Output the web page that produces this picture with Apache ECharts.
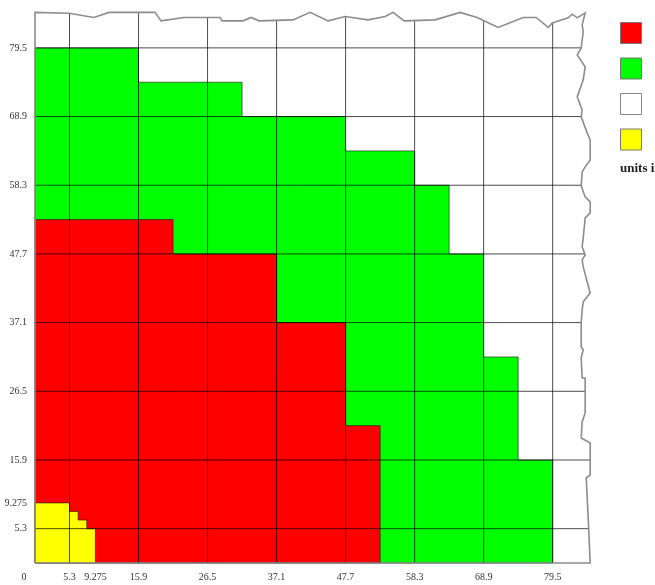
<!DOCTYPE html>
<html><head><meta charset="utf-8">
<script src="https://cdn.jsdelivr.net/npm/echarts@6/dist/echarts.min.js"></script>
<style>html,body{margin:0;padding:0;background:#fff}#c{width:655px;height:585px}</style>
</head><body><div id="c"></div>
<script>
// ---- data ----
const tickLabelsX = [0, 5.3, 9.275, 15.9, 26.5, 37.1, 47.7, 58.3, 68.9, 79.5];
const tickLabelsY = [5.3, 9.275, 15.9, 26.5, 37.1, 47.7, 58.3, 68.9, 79.5];
const gridValues = [5.3, 15.9, 26.5, 37.1, 47.7, 58.3, 68.9, 79.5];

// step regions: column boundaries and the top value of each column
const greenX   = [0, 15.9, 31.8, 47.7, 58.3, 63.6, 68.9, 74.2, 79.5];
const greenTop = [79.5, 74.2, 68.9, 63.6, 58.3, 47.7, 31.8, 15.9];
const redX     = [0, 21.2, 37.1, 47.7, 53.0];
const redTop   = [53.0, 47.7, 37.1, 21.2];
const yellowX   = [0, 5.3, 6.625, 7.95, 9.275];
const yellowTop = [9.275, 7.95, 6.625, 5.3];

// torn-paper outline (top edge left->right, then right edge top->bottom)
const paperEdge = [
  [0,84.98],[5.22,84.84],[9.06,84.19],[11.37,84.98],[18.43,84.98],[19.36,83.67],
  [22.89,84.19],[28.42,84.19],[28.73,83.67],[31.95,83.67],[33.18,84.19],[34.41,83.67],
  [39.63,83.82],[42.25,84.98],[45.01,83.67],[47.63,84.33],[51.16,83.82],[53.77,84.33],
  [55.0,84.98],[56.69,83.67],[61.45,83.82],[65.29,84.98],[67.9,84.19],[71.13,82.65],
  [74.97,84.19],[76.97,84.19],[78.81,82.65],[79.42,83.36],[81.88,84.13],[82.5,84.7],
  [83.27,84.13],[84.49,84.9],[84.03,83.05],[84.19,81.97],[83.88,79.5],[83.27,78.42],
  [84.49,76.57],[84.19,74.56],[83.27,71.94],[84.03,69.93],[83.88,68.85],[84.8,66.38],
  [85.26,65.3],[85.26,62.21],[84.49,61.13],[84.03,60.36],[83.88,58.2],[84.49,56.5],
  [85.26,55.73],[85.26,54.03],[84.49,53.26],[84.19,50.17],[84.03,48.78],[84.49,47.55],
  [84.03,46.77],[84.19,45.69],[85.26,41.68],[84.19,40.29],[84.03,39.06],[83.88,37.05],
  [83.88,33.34],[84.19,32.88],[83.88,31.65],[84.03,28.56],[84.49,28.56],[84.49,23.16],
  [84.03,21.77],[83.88,19.3],[85.26,18.52],[85.26,13.58],[84.65,13.12],[84.95,7.1],
  [85.26,0]
];

const XMAX = 86, YMAX = 85.5;
const FONT = '"Liberation Serif", "DejaVu Serif", serif';

function stepRegion(xs, tops, color) {
  return function (params, api) {
    const pts = [api.coord([xs[0], 0])];
    for (let i = 0; i < tops.length; i++) {
      pts.push(api.coord([xs[i], tops[i]]));
      pts.push(api.coord([xs[i + 1], tops[i]]));
    }
    pts.push(api.coord([xs[xs.length - 1], 0]));
    return { type: 'polygon', shape: { points: pts },
      style: { fill: color, stroke: 'rgba(0,0,0,0.55)', lineWidth: 1 } };
  };
}

const chart = echarts.init(document.getElementById('c'), null, { renderer: 'canvas' });
chart.setOption({
  animation: false,
  backgroundColor: '#fff',
  grid: { left: 35, right: 60, top: 9, bottom: 22, outerBoundsMode: 'none', containLabel: false },
  xAxis: {
    type: 'value', min: 0, max: XMAX,
    axisLine: { show: false }, axisTick: { show: false }, splitLine: { show: false },
    axisLabel: {
      customValues: tickLabelsX, margin: 9, color: '#333', fontFamily: FONT, fontSize: 10,
      formatter: v => v === 0 ? '{o|0}' : String(v),
      rich: { o: { padding: [0, 22, 0, 0], color: '#333', fontFamily: FONT, fontSize: 10 } }
    }
  },
  yAxis: {
    type: 'value', min: 0, max: YMAX,
    axisLine: { show: false }, axisTick: { show: false }, splitLine: { show: false },
    axisLabel: { customValues: tickLabelsY, margin: 8, color: '#333', fontFamily: FONT, fontSize: 10,
      formatter: v => String(v) }
  },
  legend: {
    orient: 'vertical', left: 620, top: 22, itemWidth: 21, itemHeight: 21, itemGap: 13.5,
    icon: 'rect', selectedMode: false, formatter: () => '', padding: 0,
    data: [
      { name: 'red', itemStyle: { color: '#ff0000', borderColor: '#777', borderWidth: 1 } },
      { name: 'green', itemStyle: { color: '#00ff00', borderColor: '#777', borderWidth: 1 } },
      { name: 'white', itemStyle: { color: '#ffffff', borderColor: '#888', borderWidth: 1 } },
      { name: 'yellow', itemStyle: { color: '#ffff00', borderColor: '#777', borderWidth: 1 } }
    ]
  },
  graphic: [{ type: 'text', left: 620, top: 162,
    style: { text: 'units in', font: 'bold 13px ' + FONT, fill: '#222' } }],
  series: [
    { type: 'custom', name: 'green', itemStyle: { color: '#00ff00' }, silent: true, z: 2,
      data: [[0, 0]], renderItem: stepRegion(greenX, greenTop, '#00ff00') },
    { type: 'custom', name: 'red', itemStyle: { color: '#ff0000' }, silent: true, z: 2,
      data: [[0, 0]], renderItem: stepRegion(redX, redTop, '#ff0000') },
    { type: 'custom', name: 'yellow', itemStyle: { color: '#ffff00' }, silent: true, z: 2,
      data: [[0, 0]], renderItem: stepRegion(yellowX, yellowTop, '#ffff00') },
    { type: 'custom', name: 'white', itemStyle: { color: '#ffffff' }, silent: true, z: 2,
      data: [], renderItem: () => null },
    // grid lines
    { type: 'custom', silent: true, z: 3, data: gridValues.map(v => [v, v]),
      renderItem: function (params, api) {
        const v = api.value(0);
        const a = api.coord([v, 0]), b = api.coord([v, YMAX]);
        const c = api.coord([0, v]), d = api.coord([XMAX, v]);
        const st = { stroke: 'rgba(0,0,0,0.7)', lineWidth: 1 };
        return { type: 'group', children: [
          { type: 'line', shape: { x1: a[0], y1: a[1], x2: b[0], y2: b[1] }, style: st },
          { type: 'line', shape: { x1: c[0], y1: c[1], x2: d[0], y2: d[1] }, style: st }
        ] };
      } },
    // cover beyond the torn edge, and the outline
    { type: 'custom', silent: true, z: 4, data: [[0, 0]],
      renderItem: function (params, api) {
        const edge = paperEdge.map(p => api.coord(p));
        const cover = [api.coord([0, YMAX])].concat(edge,
          [api.coord([XMAX, 0]), api.coord([XMAX, YMAX])]);
        const outline = [api.coord([0, 0])].concat(edge, [api.coord([0, 0])]);
        return { type: 'group', children: [
          { type: 'polygon', shape: { points: cover }, style: { fill: '#fff' } },
          { type: 'polyline', shape: { points: outline },
            style: { stroke: '#8c8c8c', lineWidth: 1.6, fill: null } }
        ] };
      } }
  ]
});
</script></body></html>
